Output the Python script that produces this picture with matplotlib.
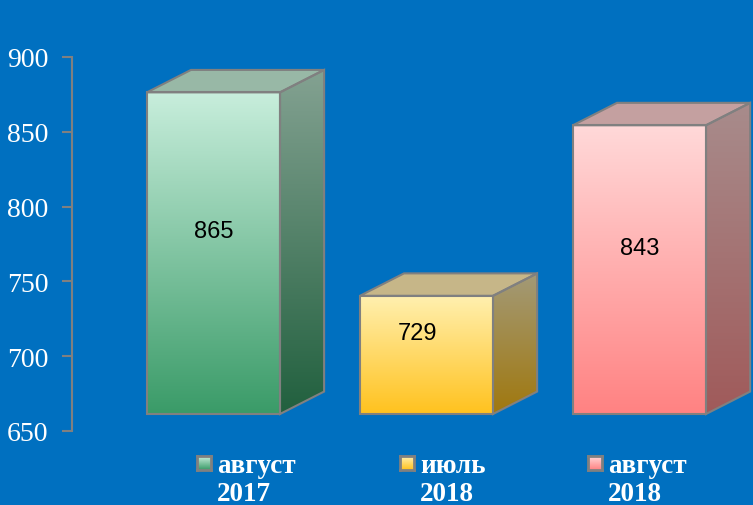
import numpy as np
import matplotlib.pyplot as plt
from matplotlib.patches import Polygon
from matplotlib.colors import LinearSegmentedColormap
from matplotlib.transforms import ScaledTranslation

# data
periods = ['август\n2017', 'июль\n2018', 'август\n2018']
values = [865, 729, 843]
y_ticks = [650, 700, 750, 800, 850, 900]

# face colours per bar: front (top, bottom), side (top, bottom), roof
front_cols = [('#c8eedc', '#3a9b68'), ('#fff0b0', '#ffc21e'), ('#ffd9d9', '#ff8282')]
side_cols = [('#84a292', '#21603e'), ('#a39a78', '#a0780e'), ('#a88c8c', '#a05a5a')]
roof_cols = ['#98b8a6', '#c6b688', '#c4a0a0']

BG = '#0070c0'
EDGE = '#808080'
BASE = 650
WIDTH = 0.625
DEPTH_X = 0.207
DEPTH_Y = 15.0

fig = plt.figure(figsize=(7.53, 5.06), dpi=100, facecolor=BG)
ax = fig.add_axes([72 / 753, 74 / 506, 681 / 753, 374 / 506])
ax.set_facecolor(BG)
ax.set_xlim(-0.664, 2.533)
ax.set_ylim(650, 900)

# bars sit a little above the axis floor (perspective lift)
lift = ax.transData + ScaledTranslation(0, 0.17, fig.dpi_scale_trans)


def gradient_fill(poly, top, bottom, extent):
    cmap = LinearSegmentedColormap.from_list('g', [bottom, top])
    grad = np.linspace(0, 1, 256).reshape(-1, 1)
    im = ax.imshow(grad, cmap=cmap, origin='lower', aspect='auto',
                   extent=extent, transform=lift, zorder=2)
    im.set_clip_path(poly)


for i, v in enumerate(values):
    x0, x1 = i - WIDTH / 2, i + WIDTH / 2
    front = [(x0, BASE), (x1, BASE), (x1, v), (x0, v)]
    side = [(x1, BASE), (x1 + DEPTH_X, BASE + DEPTH_Y),
            (x1 + DEPTH_X, v + DEPTH_Y), (x1, v)]
    roof = [(x0, v), (x1, v), (x1 + DEPTH_X, v + DEPTH_Y), (x0 + DEPTH_X, v + DEPTH_Y)]

    for pts, fc, ext in [
        (front, front_cols[i], (x0, x1, BASE, v)),
        (side, side_cols[i], (x1, x1 + DEPTH_X, BASE, v + DEPTH_Y)),
    ]:
        clip = Polygon(pts, closed=True, facecolor='none', edgecolor='none',
                       transform=lift)
        ax.add_patch(clip)
        gradient_fill(clip, fc[0], fc[1], ext)

    ax.add_patch(Polygon(roof, closed=True, facecolor=roof_cols[i], edgecolor=EDGE,
                         lw=1.5, transform=lift, zorder=3, clip_on=False))
    for pts in (front, side):
        ax.add_patch(Polygon(pts, closed=True, facecolor='none', edgecolor=EDGE,
                             lw=1.5, transform=lift, zorder=3, clip_on=False))

    dx = -0.04 if i == 1 else 0.0
    ax.text(i + dx, (v + BASE) / 2 + 26, str(v), ha='center', va='center',
            fontsize=17, family='Liberation Sans', color='black', zorder=4)

# axis styling
for s in ['top', 'right', 'bottom']:
    ax.spines[s].set_visible(False)
ax.spines['left'].set_color(EDGE)
ax.spines['left'].set_linewidth(1.5)
ax.set_xticks([])
ax.set_yticks(y_ticks)
ax.tick_params(axis='y', colors=EDGE, length=7, width=1.5, pad=10,
               labelcolor='white', labelsize=20)
for lab in ax.get_yticklabels():
    lab.set_family('Liberation Serif')

# legend entries under the bars
leg_x = [197, 400, 588]
for i, name in enumerate(periods):
    lx = leg_x[i] / 753
    sq = fig.add_axes([lx, (506 - 471) / 506, 14 / 753, 14 / 506])
    cmap = LinearSegmentedColormap.from_list('g', [front_cols[i][1], front_cols[i][0]])
    sq.imshow(np.linspace(0, 1, 32).reshape(-1, 1), cmap=cmap, origin='lower', aspect='auto')
    sq.set_xticks([])
    sq.set_yticks([])
    for s in sq.spines.values():
        s.set_color(EDGE)
        s.set_linewidth(2)
    fig.text(lx + 20 / 753, (506 - 454) / 506, name, ha='left', va='top',
             color='white', fontsize=19.5, fontweight='bold', family='Liberation Serif',
             linespacing=1.16)

fig.savefig('out.png', dpi=100, facecolor=BG)
